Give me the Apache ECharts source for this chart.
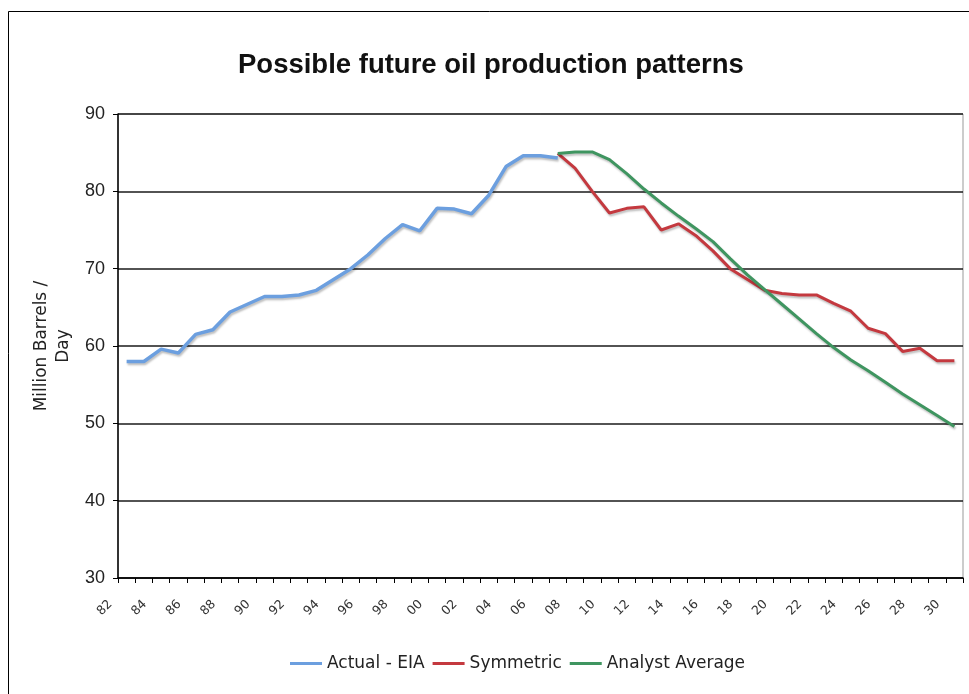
<!DOCTYPE html>
<html>
<head>
<meta charset="utf-8">
<script src="https://cdn.jsdelivr.net/npm/echarts@6/dist/echarts.min.js"></script>
<style>
  html, body { margin: 0; padding: 0; background: #fff; }
  #chart { width: 969px; height: 694px; }
</style>
</head>
<body>
<div id="chart"></div>
<script>
// years 1982..2030, shown as two digits
const years = ['82','83','84','85','86','87','88','89','90','91','92','93','94','95','96','97','98','99',
  '00','01','02','03','04','05','06','07','08','09','10','11','12','13','14','15','16','17','18','19',
  '20','21','22','23','24','25','26','27','28','29','30'];

// Actual - EIA, 82..07
const actual = [58.0, 58.0, 59.6, 59.1, 61.5, 62.1, 64.4, 65.4, 66.4, 66.4, 66.6, 67.2, 68.6,
  70.0, 71.8, 73.9, 75.7, 74.9, 77.8, 77.7, 77.1, 79.5, 83.2, 84.6, 84.6, 84.3];

// projections, 07..30
const symmetric = [84.9, 83.0, 80.0, 77.2, 77.8, 78.0, 75.0, 75.8, 74.3, 72.3, 70.0, 68.6,
  67.2, 66.8, 66.6, 66.6, 65.5, 64.5, 62.3, 61.6, 59.3, 59.7, 58.1, 58.1];
const analyst = [84.9, 85.1, 85.1, 84.1, 82.3, 80.3, 78.5, 76.8, 75.2, 73.5, 71.3, 69.2,
  67.3, 65.4, 63.5, 61.6, 59.8, 58.2, 56.8, 55.3, 53.8, 52.4, 51.0, 49.6];

const forecastStart = years.indexOf('07');
const pad = (n) => new Array(n).fill(null);
const actualData = actual.concat(pad(years.length - actual.length));
const symData = pad(forecastStart).concat(symmetric);
const anaData = pad(forecastStart).concat(analyst);

const chart = echarts.init(document.getElementById('chart'));

const lineShadow = {
  shadowColor: 'rgba(0,0,0,0.25)',
  shadowBlur: 2,
  shadowOffsetX: 1,
  shadowOffsetY: 2
};

const option = {
  backgroundColor: '#fff',
  animation: false,
  title: {
    text: 'Possible future oil production patterns',
    left: 233,
    top: 46,
    textStyle: {
      fontFamily: 'Liberation Sans',
      fontSize: 27.5,
      fontWeight: 'bold',
      color: '#111'
    }
  },
  graphic: [{
    type: 'rect',
    shape: { x: 8.5, y: 11.5, width: 1000, height: 1000 },
    style: { fill: 'none', stroke: '#000', lineWidth: 1 },
    silent: true,
    z: -1
  }],
  legend: {
    left: 285,
    top: 650,
    icon: 'rect',
    itemWidth: 32,
    itemHeight: 3,
    itemGap: 8,
    textStyle: {
      fontFamily: 'DejaVu Sans',
      fontSize: 17,
      color: '#222'
    },
    data: ['Actual - EIA', 'Symmetric', 'Analyst Average']
  },
  grid: {
    left: 118,
    right: 6,
    top: 114,
    bottom: 116,
    show: true,
    borderColor: '#999',
    borderWidth: 1
  },
  xAxis: {
    type: 'category',
    data: years,
    boundaryGap: true,
    axisLine: { lineStyle: { color: '#000', width: 1.5 } },
    axisTick: { show: true, interval: 0, length: 5, lineStyle: { color: '#000' } },
    axisLabel: {
      interval: 1,
      rotate: 45,
      margin: 8,
      padding: [0, 23, 0, 0],
      fontFamily: 'DejaVu Sans',
      fontSize: 12.5,
      color: '#333'
    },
    splitLine: { show: false }
  },
  yAxis: {
    type: 'value',
    min: 30,
    max: 90,
    interval: 10,
    name: 'Million Barrels /\nDay',
    nameLocation: 'middle',
    nameGap: 39,
    nameTextStyle: {
      fontFamily: 'DejaVu Sans',
      fontSize: 17,
      lineHeight: 22,
      color: '#222'
    },
    axisLine: { show: true, lineStyle: { color: '#000', width: 1.5 } },
    axisTick: { show: true, length: 5, lineStyle: { color: '#000' } },
    axisLabel: {
      margin: 13,
      fontFamily: 'Liberation Sans',
      fontSize: 18,
      color: '#222'
    },
    splitLine: { show: true, lineStyle: { color: '#1a1a1a', width: 1.5 } }
  },
  series: [
    {
      name: 'Actual - EIA',
      type: 'line',
      data: actualData,
      showSymbol: false,
      color: '#6c9fdf',
      lineStyle: Object.assign({ width: 3.5, color: '#6c9fdf' }, lineShadow)
    },
    {
      name: 'Symmetric',
      type: 'line',
      data: symData,
      showSymbol: false,
      color: '#c4393f',
      lineStyle: Object.assign({ width: 3, color: '#c4393f' }, lineShadow)
    },
    {
      name: 'Analyst Average',
      type: 'line',
      data: anaData,
      showSymbol: false,
      color: '#3f9560',
      lineStyle: Object.assign({ width: 3, color: '#3f9560' }, lineShadow)
    }
  ]
};

chart.setOption(option);
</script>
</body>
</html>
